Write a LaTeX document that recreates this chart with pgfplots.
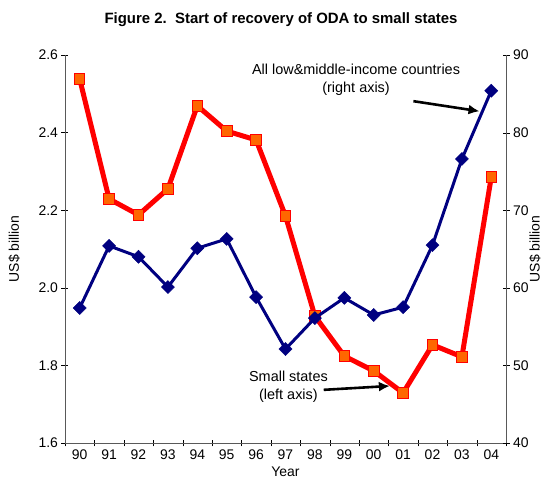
\documentclass[border=0pt]{standalone}
\usepackage{pgfplots}
\pgfplotsset{compat=1.18}
\usetikzlibrary{arrows.meta}
\usepackage{fontspec}
\setmainfont{Liberation Sans}
\definecolor{lred}{RGB}{255,0,0}
\definecolor{lorange}{RGB}{255,102,0}
\definecolor{navy}{RGB}{0,0,128}
\begin{document}
\begin{tikzpicture}
\pgfplotsset{
  every axis/.append style={
    scale only axis, width=441bp, height=388bp,
    xmin=-0.5, xmax=14.5,
    /pgf/number format/assume math mode=true,
    tick label style={font=\fontsize{14}{16}\selectfont},
  }
}
\begin{axis}[
  axis x line=bottom, axis y line=left,
  axis line style={-, gray!70!black},
  ymin=1.6, ymax=2.6,
  ytick={1.6,1.8,2.0,2.2,2.4,2.6},
  yticklabel style={/pgf/number format/.cd, fixed, fixed zerofill, precision=1},
  xtick={0,...,14},
  xticklabels={90,91,92,93,94,95,96,97,98,99,00,01,02,03,04},
  major x tick style={draw=none},
  minor xtick={-0.5,0.5,...,14.5},
  minor tick length=7bp,
  major tick length=7bp,
  tick align=center,
  tick style={black},
  xlabel={Year},
  ylabel={US\$ billion},
  xlabel style={font=\fontsize{14}{16}\selectfont, yshift=0bp},
  ylabel style={font=\fontsize{14}{16}\selectfont, yshift=12bp},
  clip=false,
]
\addplot[lred, line width=5bp, mark=square*, mark size=5.3bp,
  mark options={fill=lorange, draw=lred, line width=1bp}] coordinates {
(0,2.538) (1,2.229) (2,2.188) (3,2.255) (4,2.469) (5,2.404) (6,2.381)
(7,2.185) (8,1.927) (9,1.824) (10,1.786) (11,1.729) (12,1.853) (13,1.822) (14,2.286)
};
\coordinate (sw) at (rel axis cs:0,0);
\coordinate (ne) at (rel axis cs:1,1);
\node[align=center, font=\fontsize{14.5}{18}\selectfont] at (axis cs:9.4,2.535) {All low\&middle-income countries\\(right axis)};
\draw[-{Latex[length=11bp,width=10bp]}, line width=2.6bp] (axis cs:11.35,2.481) -- (axis cs:13.6,2.455);
\node[align=center, font=\fontsize{14.5}{18}\selectfont] at (axis cs:7.1,1.745) {Small states\\(left axis)};
\draw[-{Latex[length=11bp,width=10bp]}, line width=2.6bp] (axis cs:8.3,1.737) -- (axis cs:10.55,1.747);
\end{axis}
\begin{axis}[
  axis y line=right, axis x line=none,
  axis line style={-, gray!70!black},
  ymin=40, ymax=90,
  ytick={40,50,60,70,80,90},
  tick align=center, major tick length=7bp,
  tick style={black},
  ylabel={US\$ billion},
  ylabel style={font=\fontsize{14}{16}\selectfont, yshift=6bp},
]
\addplot[navy, line width=3bp, mark=square*, mark size=4.6bp,
  mark options={fill=navy, draw=navy, line width=0.5bp, rotate=45}] coordinates {
(0,57.4) (1,65.4) (2,64.0) (3,60.1) (4,65.1) (5,66.3) (6,58.8)
(7,52.1) (8,56.1) (9,58.7) (10,56.5) (11,57.5) (12,65.5) (13,76.6) (14,85.4)
};
\end{axis}
\node[font=\bfseries\fontsize{15}{18}\selectfont, anchor=base] at ([xshift=216bp,yshift=31bp]sw |- ne) {Figure 2.\ \ Start of recovery of ODA to small states};
\pgfresetboundingbox
\path ([xshift=-65bp,yshift=-56bp]sw) rectangle ([xshift=42bp,yshift=55bp]ne);
\end{tikzpicture}
\end{document}
